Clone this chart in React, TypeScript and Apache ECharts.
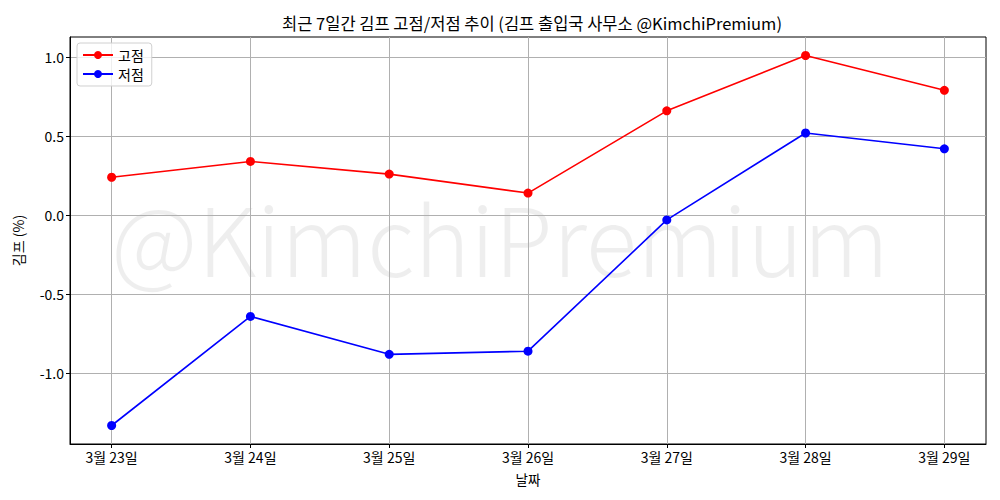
import React, { useEffect, useRef } from "react";
import * as echarts from "echarts";

const dates = ["3월 23일", "3월 24일", "3월 25일", "3월 26일", "3월 27일", "3월 28일", "3월 29일"];
const highValues = [0.24, 0.34, 0.26, 0.14, 0.66, 1.01, 0.79];
const lowValues = [-1.33, -0.64, -0.88, -0.86, -0.03, 0.52, 0.42];
const yTicks = [-1.0, -0.5, 0.0, 0.5, 1.0];
const xTicks = [0, 1, 2, 3, 4, 5, 6];

const FONT = "'Noto Sans CJK KR', 'Noto Sans', sans-serif";

export default function App() {
  const ref = useRef<HTMLDivElement>(null);
  useEffect(() => {
    if (!ref.current) return;
    const chart = echarts.init(ref.current, undefined, { renderer: "svg" });
    const gridLine = { show: true, lineStyle: { color: "#b0b0b0", width: 1, type: "solid" as const } };
    chart.setOption({
      animation: false,
      backgroundColor: "#ffffff",
      textStyle: { fontFamily: FONT },
      title: {
        text: "최근 7일간 김프 고점/저점 추이 (김프 출입국 사무소 @KimchiPremium)",
        left: 527,
        top: 10,
        textAlign: "center",
        textStyle: { fontFamily: FONT, fontSize: 16.5, fontWeight: "normal", color: "#000" },
      },
      graphic: [
        {
          type: "text",
          left: "center",
          top: 188,
          z: -10,
          silent: true,
          style: {
            text: "@KimchiPremium",
            fontFamily: FONT,
            fontSize: 95,
            fontWeight: 300,
            fill: "rgba(0,0,0,0.065)",
          },
        },
      ],
      legend: {
        left: 77,
        top: 43,
        orient: "vertical",
        itemWidth: 30,
        itemHeight: 10,
        itemGap: 5,
        padding: [5, 8, 5, 5],
        borderColor: "#d0d0d0",
        borderWidth: 1,
        borderRadius: 3,
        backgroundColor: "rgba(255,255,255,0.8)",
        textStyle: { fontFamily: FONT, fontSize: 14, color: "#000" },
        data: ["고점", "저점"],
      },
      grid: { left: 70, right: 14, top: 37, bottom: 56, show: true, borderColor: "#000", borderWidth: 1, backgroundColor: "transparent" },
      xAxis: {
        type: "value",
        min: -0.3,
        max: 6.3,
        name: "날짜",
        nameLocation: "middle",
        nameGap: 28,
        nameTextStyle: { fontFamily: FONT, fontSize: 13.5, color: "#000" },
        axisLine: { show: true, onZero: false, lineStyle: { color: "#000" } },
        axisTick: { show: true, length: 4, customValues: xTicks, lineStyle: { color: "#000" } },
        axisLabel: {
          customValues: xTicks,
          formatter: (v: number) => dates[Math.round(v)] ?? "",
          fontFamily: FONT,
          fontSize: 14,
          color: "#000",
          margin: 6,
        },
        splitLine: gridLine,
      },
      yAxis: {
        type: "value",
        min: -1.447,
        max: 1.127,
        name: "김프 (%)",
        nameLocation: "middle",
        nameGap: 45,
        nameTextStyle: { fontFamily: FONT, fontSize: 14, color: "#000" },
        axisLine: { show: true, onZero: false, lineStyle: { color: "#000" } },
        axisTick: { show: true, length: 4, customValues: yTicks, lineStyle: { color: "#000" } },
        axisLabel: {
          customValues: yTicks,
          formatter: (v: number) => v.toFixed(1),
          fontFamily: FONT,
          fontSize: 14,
          color: "#000",
          margin: 6,
        },
        splitLine: gridLine,
      },
      series: [
        {
          name: "고점",
          type: "line",
          data: highValues.map((v, i) => [xTicks[i], v]),
          color: "#ff0000",
          symbol: "circle",
          symbolSize: 9,
          lineStyle: { width: 1.6, color: "#ff0000" },
          itemStyle: { color: "#ff0000" },
          z: 5,
        },
        {
          name: "저점",
          type: "line",
          data: lowValues.map((v, i) => [xTicks[i], v]),
          color: "#0000ff",
          symbol: "circle",
          symbolSize: 9,
          lineStyle: { width: 1.6, color: "#0000ff" },
          itemStyle: { color: "#0000ff" },
          z: 5,
        },
      ],
    });
    return () => chart.dispose();
  }, []);
  return <div ref={ref} style={{ width: 1000, height: 500, position: "absolute", left: 0, top: 0 }} />;
}
